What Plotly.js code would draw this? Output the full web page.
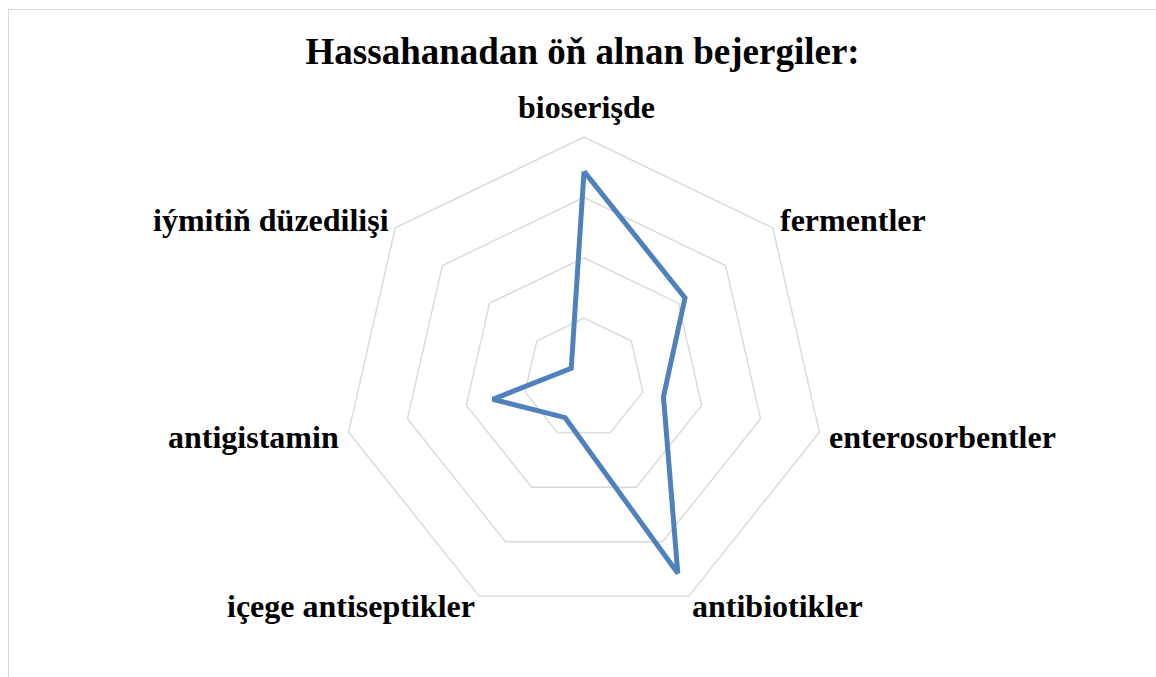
<!DOCTYPE html>
<html>
<head>
<meta charset="utf-8">
<script src="https://cdn.plot.ly/plotly-3.0.1.min.js"></script>
<style>
  html, body { margin: 0; padding: 0; overflow: hidden; background: #ffffff; }
  #frame {
    position: absolute; left: 8px; top: 9px; width: 1300px; height: 800px;
    border: 1px solid #d9d9d9; box-sizing: border-box;
  }
  #chart { position: absolute; left: 0; top: 0; width: 1156px; height: 677px; }
</style>
</head>
<body>
<div id="frame"></div>
<div id="chart"></div>
<script>
// Treatments received before hospitalisation
const categories = [
  "bioserişde",
  "fermentler",
  "enterosorbentler",
  "antibiotikler",
  "içege antiseptikler",
  "antigistamin",
  "iýmitiň düzedilişi"
];
const values = [34.3, 21.4, 13.5, 35.8, 7.2, 15.5, 2.7];

// Close the outline by returning to the first category
const thetaClosed = categories.concat([categories[0]]);
const rClosed = values.concat([values[0]]);

const serif = "'Liberation Serif', 'Times New Roman', serif";
const W = 1156, H = 677;
const margin = { l: 62, r: 50, t: 136.5, b: 56.5 };

// Category labels sit just outside each corner of the outer ring
// (pixel nudges per corner: [dx, dy], anchor side)
const labelNudge = [
  [2, -30.5, "center"],
  [5, -8, "left"],
  [7, 5, "left"],
  [1, 9.5, "left"],
  [-2, 9.5, "right"],
  [-7, 5, "right"],
  [-4, -8, "right"]
];

const plotW = W - margin.l - margin.r;
const plotH = H - margin.t - margin.b;
const radiusPx = Math.min(plotW, plotH) / 2;
const n = categories.length;

const annotations = categories.map(function (name, i) {
  const ang = (90 - i * 360 / n) * Math.PI / 180;
  const nudge = labelNudge[i];
  return {
    text: name,
    xref: "paper", yref: "paper",
    x: 0.5 + Math.cos(ang) * radiusPx / plotW,
    y: 0.5 + Math.sin(ang) * radiusPx / plotH,
    xanchor: nudge[2], yanchor: "middle",
    xshift: nudge[0], yshift: -nudge[1],
    showarrow: false,
    font: { family: serif, size: 32, color: "#000000", weight: "bold" }
  };
});

const trace = {
  type: "scatterpolar",
  mode: "lines",
  theta: thetaClosed,
  r: rClosed,
  line: { color: "#4f81bd", width: 5 },
  hoverinfo: "theta+r",
  showlegend: false
};

const layout = {
  width: W,
  height: H,
  paper_bgcolor: "rgba(0,0,0,0)",
  plot_bgcolor: "rgba(0,0,0,0)",
  margin: margin,
  title: {
    text: "Hassahanadan öň alnan bejergiler:",
    font: { family: serif, size: 37, color: "#000000", weight: "bold" },
    x: 0.504,
    xanchor: "center",
    y: 0.925,
    yanchor: "middle",
    yref: "container"
  },
  annotations: annotations,
  polar: {
    bgcolor: "rgba(0,0,0,0)",
    gridshape: "linear",
    radialaxis: {
      range: [0, 40],
      dtick: 10,
      tick0: 0,
      showticklabels: false,
      ticks: "",
      showline: false,
      gridcolor: "#d9d9d9",
      gridwidth: 1.4
    },
    angularaxis: {
      rotation: 90,
      direction: "clockwise",
      showgrid: false,
      showline: true,
      showticklabels: false,
      linecolor: "#d9d9d9",
      linewidth: 1.4,
      ticks: ""
    }
  }
};

Plotly.newPlot("chart", [trace], layout, { displayModeBar: false, staticPlot: true });
</script>
</body>
</html>
